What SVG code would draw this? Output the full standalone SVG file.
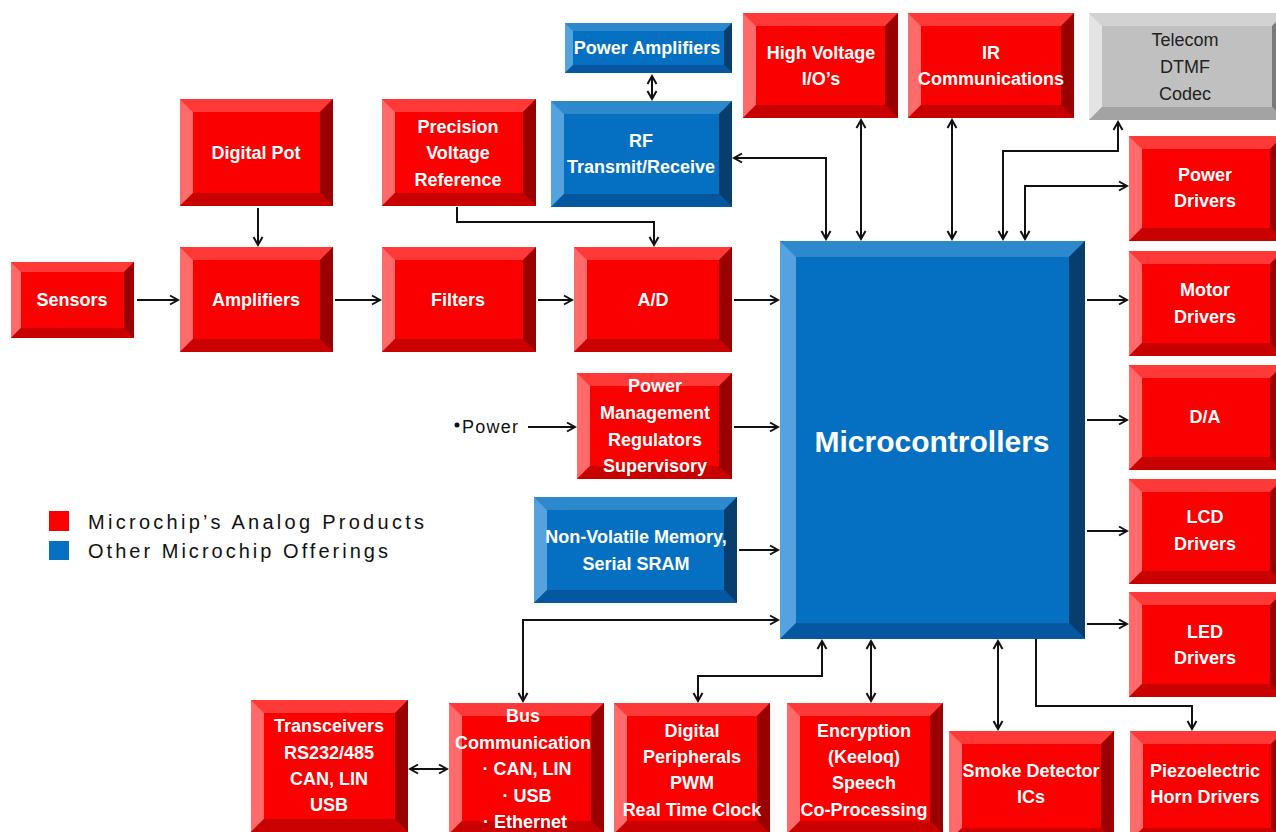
<svg xmlns="http://www.w3.org/2000/svg" width="1276" height="832" viewBox="0 0 1276 832">
<style>
.rf{fill:#fa0000}.rt{fill:#ff3838}.rl{fill:#ff6a6a}.rr{fill:#9b0000}.rb{fill:#c80000}
.bf{fill:#0570c1}.bt{fill:#2e89cc}.bl{fill:#55a2de}.br{fill:#073e6e}.bb{fill:#0558a0}
.gf{fill:#c0c0c0}.gt{fill:#d2d2d2}.gl{fill:#e4e4e4}.gr{fill:#7a7a7a}.gb{fill:#a3a3a3}
.t{font-family:"Liberation Sans",Arial,sans-serif;font-weight:bold;font-size:18px;fill:#fff;text-anchor:middle}
.tg{font-family:"Liberation Sans",Arial,sans-serif;font-size:18px;fill:#222;text-anchor:middle}
.big{font-size:30px}
.leg{font-family:"Liberation Sans",Arial,sans-serif;font-size:20px;fill:#111}
.c{fill:none;stroke:#111;stroke-width:2}
</style>
<defs>
<marker id="a" markerWidth="12" markerHeight="12" refX="10" refY="6" orient="auto-start-reverse" markerUnits="userSpaceOnUse">
<path d="M2,1.5 L10,6 L2,10.5" fill="none" stroke="#111" stroke-width="2"/>
</marker>
</defs>
<rect width="1276" height="832" fill="#fff"/>

<g id="sensors"><rect class="rf" x="11" y="262" width="123" height="76"/><polygon class="rt" points="11,262 134,262 124,272 21,272"/><polygon class="rl" points="11,262 21,272 21,328 11,338"/><polygon class="rr" points="134,262 134,338 124,328 124,272"/><polygon class="rb" points="11,338 21,328 124,328 134,338"/><text class="t" x="72" y="306">Sensors</text></g>

<g id="digitalpot"><rect class="rf" x="180" y="99" width="153" height="107"/><polygon class="rt" points="180,99 333,99 320,112 193,112"/><polygon class="rl" points="180,99 193,112 193,193 180,206"/><polygon class="rr" points="333,99 333,206 320,193 320,112"/><polygon class="rb" points="180,206 193,193 320,193 333,206"/><text class="t" x="256" y="159">Digital Pot</text></g>

<g id="amplifiers"><rect class="rf" x="180" y="247" width="153" height="105"/><polygon class="rt" points="180,247 333,247 320,260 193,260"/><polygon class="rl" points="180,247 193,260 193,339 180,352"/><polygon class="rr" points="333,247 333,352 320,339 320,260"/><polygon class="rb" points="180,352 193,339 320,339 333,352"/><text class="t" x="256" y="306">Amplifiers</text></g>

<g id="precision"><rect class="rf" x="382" y="99" width="154" height="107"/><polygon class="rt" points="382,99 536,99 523,112 395,112"/><polygon class="rl" points="382,99 395,112 395,193 382,206"/><polygon class="rr" points="536,99 536,206 523,193 523,112"/><polygon class="rb" points="382,206 395,193 523,193 536,206"/><text class="t" x="458" y="133">Precision</text><text class="t" x="458" y="159">Voltage</text><text class="t" x="458" y="186">Reference</text></g>

<g id="filters"><rect class="rf" x="382" y="247" width="154" height="105"/><polygon class="rt" points="382,247 536,247 523,260 395,260"/><polygon class="rl" points="382,247 395,260 395,339 382,352"/><polygon class="rr" points="536,247 536,352 523,339 523,260"/><polygon class="rb" points="382,352 395,339 523,339 536,352"/><text class="t" x="458" y="306">Filters</text></g>

<g id="ad"><rect class="rf" x="574" y="247" width="158" height="105"/><polygon class="rt" points="574,247 732,247 719,260 587,260"/><polygon class="rl" points="574,247 587,260 587,339 574,352"/><polygon class="rr" points="732,247 732,352 719,339 719,260"/><polygon class="rb" points="574,352 587,339 719,339 732,352"/><text class="t" x="653" y="306">A/D</text></g>

<g id="poweramps"><rect class="bf" x="565" y="23" width="167" height="50"/><polygon class="bt" points="565,23 732,23 724,31 573,31"/><polygon class="bl" points="565,23 573,31 573,65 565,73"/><polygon class="br" points="732,23 732,73 724,65 724,31"/><polygon class="bb" points="565,73 573,65 724,65 732,73"/><text class="t" x="647" y="54">Power Amplifiers</text></g>

<g id="rf"><rect class="bf" x="551" y="101" width="181" height="106"/><polygon class="bt" points="551,101 732,101 719,114 564,114"/><polygon class="bl" points="551,101 564,114 564,194 551,207"/><polygon class="br" points="732,101 732,207 719,194 719,114"/><polygon class="bb" points="551,207 564,194 719,194 732,207"/><text class="t" x="641" y="147">RF</text><text class="t" x="641" y="173">Transmit/Receive</text></g>

<g id="highvoltage"><rect class="rf" x="743" y="13" width="155" height="105"/><polygon class="rt" points="743,13 898,13 885,26 756,26"/><polygon class="rl" points="743,13 756,26 756,105 743,118"/><polygon class="rr" points="898,13 898,118 885,105 885,26"/><polygon class="rb" points="743,118 756,105 885,105 898,118"/><text class="t" x="821" y="59">High Voltage</text><text class="t" x="821" y="85">I/O’s</text></g>

<g id="ir"><rect class="rf" x="908" y="13" width="166" height="105"/><polygon class="rt" points="908,13 1074,13 1061,26 921,26"/><polygon class="rl" points="908,13 921,26 921,105 908,118"/><polygon class="rr" points="1074,13 1074,118 1061,105 1061,26"/><polygon class="rb" points="908,118 921,105 1061,105 1074,118"/><text class="t" x="991" y="59">IR</text><text class="t" x="991" y="85">Communications</text></g>

<g id="telecom"><rect class="gf" x="1089" y="13" width="196" height="107"/><polygon class="gt" points="1089,13 1285,13 1272,26 1102,26"/><polygon class="gl" points="1089,13 1102,26 1102,107 1089,120"/><polygon class="gr" points="1285,13 1285,120 1272,107 1272,26"/><polygon class="gb" points="1089,120 1102,107 1272,107 1285,120"/><text class="tg" x="1185" y="46">Telecom</text><text class="tg" x="1185" y="73">DTMF</text><text class="tg" x="1185" y="100">Codec</text></g>

<g id="powerdrivers"><rect class="rf" x="1129" y="136" width="154" height="105"/><polygon class="rt" points="1129,136 1283,136 1270,149 1142,149"/><polygon class="rl" points="1129,136 1142,149 1142,228 1129,241"/><polygon class="rr" points="1283,136 1283,241 1270,228 1270,149"/><polygon class="rb" points="1129,241 1142,228 1270,228 1283,241"/><text class="t" x="1205" y="181">Power</text><text class="t" x="1205" y="207">Drivers</text></g>

<g id="motordrivers"><rect class="rf" x="1129" y="251" width="154" height="105"/><polygon class="rt" points="1129,251 1283,251 1270,264 1142,264"/><polygon class="rl" points="1129,251 1142,264 1142,343 1129,356"/><polygon class="rr" points="1283,251 1283,356 1270,343 1270,264"/><polygon class="rb" points="1129,356 1142,343 1270,343 1283,356"/><text class="t" x="1205" y="296">Motor</text><text class="t" x="1205" y="323">Drivers</text></g>

<g id="da"><rect class="rf" x="1129" y="365" width="154" height="105"/><polygon class="rt" points="1129,365 1283,365 1270,378 1142,378"/><polygon class="rl" points="1129,365 1142,378 1142,457 1129,470"/><polygon class="rr" points="1283,365 1283,470 1270,457 1270,378"/><polygon class="rb" points="1129,470 1142,457 1270,457 1283,470"/><text class="t" x="1205" y="423">D/A</text></g>

<g id="lcddrivers"><rect class="rf" x="1129" y="479" width="154" height="105"/><polygon class="rt" points="1129,479 1283,479 1270,492 1142,492"/><polygon class="rl" points="1129,479 1142,492 1142,571 1129,584"/><polygon class="rr" points="1283,479 1283,584 1270,571 1270,492"/><polygon class="rb" points="1129,584 1142,571 1270,571 1283,584"/><text class="t" x="1205" y="523">LCD</text><text class="t" x="1205" y="550">Drivers</text></g>

<g id="leddrivers"><rect class="rf" x="1129" y="592" width="154" height="105"/><polygon class="rt" points="1129,592 1283,592 1270,605 1142,605"/><polygon class="rl" points="1129,592 1142,605 1142,684 1129,697"/><polygon class="rr" points="1283,592 1283,697 1270,684 1270,605"/><polygon class="rb" points="1129,697 1142,684 1270,684 1283,697"/><text class="t" x="1205" y="638">LED</text><text class="t" x="1205" y="664">Drivers</text></g>

<g id="microcontrollers"><rect class="bf" x="780" y="241" width="305" height="398"/><polygon class="bt" points="780,241 1085,241 1069,257 796,257"/><polygon class="bl" points="780,241 796,257 796,623 780,639"/><polygon class="br" points="1085,241 1085,639 1069,623 1069,257"/><polygon class="bb" points="780,639 796,623 1069,623 1085,639"/><text class="t big" x="932" y="452">Microcontrollers</text></g>

<g id="powermanagement"><rect class="rf" x="577" y="373" width="155" height="106"/><polygon class="rt" points="577,373 732,373 719,386 590,386"/><polygon class="rl" points="577,373 590,386 590,466 577,479"/><polygon class="rr" points="732,373 732,479 719,466 719,386"/><polygon class="rb" points="577,479 590,466 719,466 732,479"/><text class="t" x="655" y="392">Power</text><text class="t" x="655" y="419">Management</text><text class="t" x="655" y="446">Regulators</text><text class="t" x="655" y="472">Supervisory</text></g>

<g id="nvm"><rect class="bf" x="534" y="497" width="203" height="106"/><polygon class="bt" points="534,497 737,497 724,510 547,510"/><polygon class="bl" points="534,497 547,510 547,590 534,603"/><polygon class="br" points="737,497 737,603 724,590 724,510"/><polygon class="bb" points="534,603 547,590 724,590 737,603"/><text class="t" x="636" y="543">Non-Volatile Memory,</text><text class="t" x="636" y="570">Serial SRAM</text></g>

<g id="transceivers"><rect class="rf" x="251" y="700" width="157" height="132"/><polygon class="rt" points="251,700 408,700 395,713 264,713"/><polygon class="rl" points="251,700 264,713 264,819 251,832"/><polygon class="rr" points="408,700 408,832 395,819 395,713"/><polygon class="rb" points="251,832 264,819 395,819 408,832"/><text class="t" x="329" y="732">Transceivers</text><text class="t" x="329" y="759">RS232/485</text><text class="t" x="329" y="785">CAN, LIN</text><text class="t" x="329" y="811">USB</text></g>

<g id="buscomm"><rect class="rf" x="449" y="703" width="155" height="131"/><polygon class="rt" points="449,703 604,703 591,716 462,716"/><polygon class="rl" points="449,703 462,716 462,821 449,834"/><polygon class="rr" points="604,703 604,834 591,821 591,716"/><polygon class="rb" points="449,834 462,821 591,821 604,834"/><text class="t" x="523" y="722">Bus</text><text class="t" x="523" y="749">Communication</text><text class="t" x="527" y="775">· CAN, LIN</text><text class="t" x="527" y="802">· USB</text><text class="t" x="525" y="828">· Ethernet</text></g>

<g id="digitalperipherals"><rect class="rf" x="614" y="703" width="156" height="131"/><polygon class="rt" points="614,703 770,703 757,716 627,716"/><polygon class="rl" points="614,703 627,716 627,821 614,834"/><polygon class="rr" points="770,703 770,834 757,821 757,716"/><polygon class="rb" points="614,834 627,821 757,821 770,834"/><text class="t" x="692" y="737">Digital</text><text class="t" x="692" y="763">Peripherals</text><text class="t" x="692" y="789">PWM</text><text class="t" x="692" y="816">Real Time Clock</text></g>

<g id="encryption"><rect class="rf" x="787" y="703" width="156" height="131"/><polygon class="rt" points="787,703 943,703 930,716 800,716"/><polygon class="rl" points="787,703 800,716 800,821 787,834"/><polygon class="rr" points="943,703 943,834 930,821 930,716"/><polygon class="rb" points="787,834 800,821 930,821 943,834"/><text class="t" x="864" y="737">Encryption</text><text class="t" x="864" y="763">(Keeloq)</text><text class="t" x="864" y="789">Speech</text><text class="t" x="864" y="816">Co-Processing</text></g>

<g id="smokedetector"><rect class="rf" x="949" y="731" width="165" height="110"/><polygon class="rt" points="949,731 1114,731 1101,744 962,744"/><polygon class="rl" points="949,731 962,744 962,828 949,841"/><polygon class="rr" points="1114,731 1114,841 1101,828 1101,744"/><polygon class="rb" points="949,841 962,828 1101,828 1114,841"/><text class="t" x="1031" y="777">Smoke Detector</text><text class="t" x="1031" y="803">ICs</text></g>

<g id="piezo"><rect class="rf" x="1130" y="731" width="154" height="110"/><polygon class="rt" points="1130,731 1284,731 1271,744 1143,744"/><polygon class="rl" points="1130,731 1143,744 1143,828 1130,841"/><polygon class="rr" points="1284,731 1284,841 1271,828 1271,744"/><polygon class="rb" points="1130,841 1143,828 1271,828 1284,841"/><text class="t" x="1205" y="777">Piezoelectric</text><text class="t" x="1205" y="803">Horn Drivers</text></g>

<g id="powerlabel"><circle cx="457" cy="425" r="2.5" fill="#111"/><text x="462" y="433" font-family="Liberation Sans, Arial, sans-serif" font-size="18" fill="#111" textLength="56" lengthAdjust="spacing">Power</text></g>

<g id="legend">
<rect x="49" y="511" width="20" height="20" fill="#fa0000"/>
<rect x="49" y="541" width="20" height="19" fill="#0570c1"/>
<text class="leg" x="88" y="529" textLength="336" lengthAdjust="spacing">Microchip’s Analog Products</text>
<text class="leg" x="88" y="558" textLength="300" lengthAdjust="spacing">Other Microchip Offerings</text>
</g>

<g id="connectors" class="c">
<path class="c" d="M258,208 V245" marker-end="url(#a)"/>
<path class="c" d="M137,300 H178" marker-end="url(#a)"/>
<path class="c" d="M335,300 H380" marker-end="url(#a)"/>
<path class="c" d="M538,300 H572" marker-end="url(#a)"/>
<path class="c" d="M734,300 H778" marker-end="url(#a)"/>
<path class="c" d="M457,207 V222 H654 V245" marker-end="url(#a)"/>
<path class="c" d="M652,76 V99" marker-start="url(#a)" marker-end="url(#a)"/>
<path class="c" d="M826,239 V158 H734" marker-start="url(#a)" marker-end="url(#a)"/>
<path class="c" d="M861,120 V239" marker-start="url(#a)" marker-end="url(#a)"/>
<path class="c" d="M952,120 V239" marker-start="url(#a)" marker-end="url(#a)"/>
<path class="c" d="M1003,239 V151 H1118 V122" marker-start="url(#a)" marker-end="url(#a)"/>
<path class="c" d="M1025,239 V186 H1127" marker-start="url(#a)" marker-end="url(#a)"/>
<path class="c" d="M1087,300 H1127" marker-end="url(#a)"/>
<path class="c" d="M1087,420 H1127" marker-end="url(#a)"/>
<path class="c" d="M1087,531 H1127" marker-end="url(#a)"/>
<path class="c" d="M1087,624 H1127" marker-end="url(#a)"/>
<path class="c" d="M528,427 H575" marker-end="url(#a)"/>
<path class="c" d="M734,427 H778" marker-end="url(#a)"/>
<path class="c" d="M739,550 H778" marker-end="url(#a)"/>
<path class="c" d="M778,620 H523 V701" marker-start="url(#a)" marker-end="url(#a)"/>
<path class="c" d="M822,641 V676 H698 V701" marker-start="url(#a)" marker-end="url(#a)"/>
<path class="c" d="M871,641 V701" marker-start="url(#a)" marker-end="url(#a)"/>
<path class="c" d="M998,641 V729" marker-start="url(#a)" marker-end="url(#a)"/>
<path class="c" d="M1036,639 V706 H1192 V729" marker-end="url(#a)"/>
<path class="c" d="M410,769 H447" marker-start="url(#a)" marker-end="url(#a)"/>
</g>
</svg>
